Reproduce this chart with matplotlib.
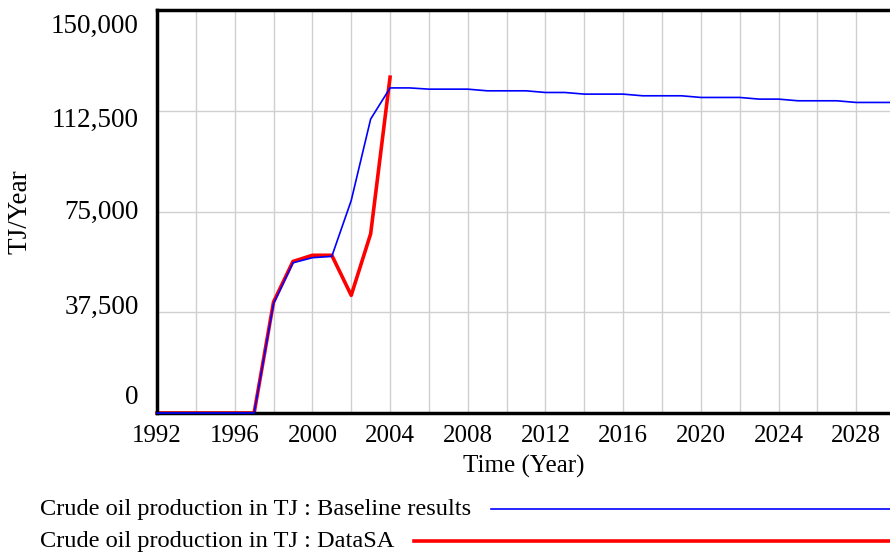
import matplotlib
matplotlib.use("Agg")
import matplotlib.pyplot as plt
from matplotlib.lines import Line2D
from matplotlib.transforms import offset_copy

# Crude oil production in TJ (TJ/Year)
years_base = list(range(1992, 2031))
baseline = [0, 0, 0, 0, 0, 0, 40700, 55900, 57800, 58300, 79100, 109400, 121000,
            121000, 120540, 120540, 120540, 119920, 119920, 119920, 119300, 119300,
            118690, 118690, 118690, 118070, 118070, 118070, 117450, 117450, 117450,
            116830, 116830, 116210, 116210, 116210, 115590, 115590, 115590]

years_data = list(range(1992, 2005))
data_sa = [0, 0, 0, 0, 0, 0, 41300, 56400, 58700, 58700, 43800, 66700, 125000]

x_ticks = list(range(1992, 2030, 4))
y_ticks = [0, 37500, 75000, 112500, 150000]

label_base = "Crude oil production in TJ : Baseline results"
label_data = "Crude oil production in TJ : DataSA"

plt.rcParams['font.family'] = ['Liberation Serif', 'DejaVu Serif']

W, H = 890, 555
fig = plt.figure(figsize=(W / 100, H / 100), dpi=100)
ax = fig.add_axes([157 / W, (H - 413) / H, (890 - 157) / W, (413 - 10) / H])

ax.plot(years_base, baseline, color="#0000ff", lw=1.2, zorder=3, clip_on=False)
ax.plot(years_data, data_sa, color="#ff0000", lw=2.6, zorder=2, clip_on=False)

ax.set_xlim(1992, 2029.74)
ax.set_ylim(0, 150000)
ax.set_xticks(x_ticks)
ax.set_xticks(list(range(1992, 2030, 2)), minor=True)
ax.set_yticks(y_ticks)
ax.set_yticklabels([])
ax.grid(True, which="both", color="#d0d0d0", lw=1)
ax.set_axisbelow(True)
ax.tick_params(which="both", length=0)
ax.tick_params(axis="x", labelsize=18, pad=9)

# Vensim style y labels: the end ones are pulled inside the range
# (shift in points, positive = up)
shifts = [11, 3.5, -0.5, -7, -12]
for v, dy in zip(y_ticks, shifts):
    tr = offset_copy(ax.get_yaxis_transform(), fig=fig, x=-13, y=dy, units="points")
    ax.text(0, v, f"{v:,}", transform=tr, ha="right", va="center", fontsize=19.5)

for s in ["left", "top", "bottom"]:
    ax.spines[s].set_linewidth(2.5)
ax.spines["right"].set_visible(False)

ax.set_xlabel("Time (Year)", fontsize=18, labelpad=5)
ax.set_ylabel("TJ/Year", fontsize=19.5)
ax.yaxis.set_label_coords((33 - 157) / 733, 0.5)

# legend drawn below the axes
fig.canvas.draw()
r = fig.canvas.get_renderer()
for i, (lab, col, lw) in enumerate([(label_base, "#0000ff", 1.2),
                                    (label_data, "#ff0000", 2.6)]):
    yy = (H - 509 - i * 32) / H
    t = fig.text(40 / W, yy, lab, fontsize=17.6, va="center", ha="left")
    bb = t.get_window_extent(r)
    x0 = (bb.x1 + 20) / W
    fig.add_artist(Line2D([x0, 1.0], [yy, yy], color=col, lw=lw,
                          transform=fig.transFigure))

fig.savefig("out.png", dpi=100)
